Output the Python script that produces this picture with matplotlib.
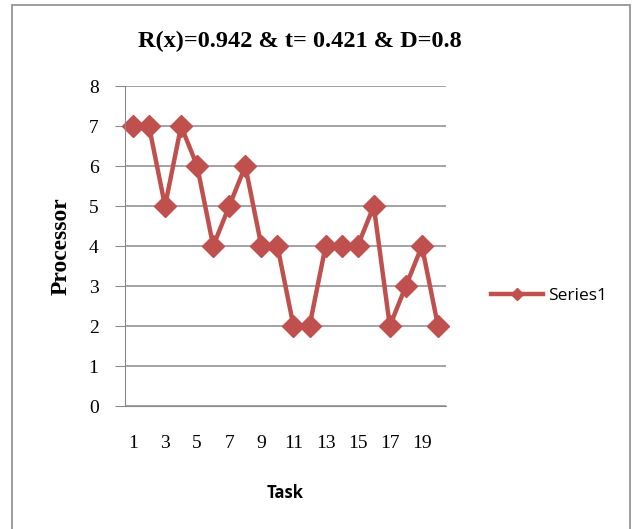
import matplotlib.pyplot as plt
from matplotlib.patches import Rectangle

# processor assigned to each task
tasks = list(range(1, 21))
processors = [7, 7, 5, 7, 6, 4, 5, 6, 4, 4, 2, 2, 4, 4, 4, 5, 2, 3, 4, 2]
tick_tasks = [1, 3, 5, 7, 9, 11, 13, 15, 17, 19]
y_ticks = [0, 1, 2, 3, 4, 5, 6, 7, 8]

red = '#C0504D'
serif = ['Liberation Serif', 'DejaVu Serif']
sans = ['Open Sans', 'DejaVu Sans']

fig = plt.figure(figsize=(6.34, 5.29), dpi=100)
fig.patches.append(Rectangle((12 / 634, -0.01), 618 / 634, 1 - 5 / 529 + 0.01,
                             transform=fig.transFigure, fill=False,
                             edgecolor='#8c8c8c', linewidth=1.2))

ax = fig.add_axes([0.197, 0.2325, 0.5065, 0.6049])
line, = ax.plot(tasks, processors, color=red, linewidth=3.2, marker='D',
                markersize=11.5, clip_on=False)

ax.set_xlim(0.5, 20.5)
ax.set_ylim(0, 8)
ax.set_yticks(y_ticks)
ax.set_xticks(tick_tasks)
ax.grid(axis='y', color='#8a8a8a', linewidth=1.1)
ax.set_axisbelow(True)
for side in ['top', 'right']:
    ax.spines[side].set_visible(False)
ax.spines['left'].set_color('#8a8a8a')
ax.spines['bottom'].set_color('#8a8a8a')
ax.tick_params(axis='y', length=7, color='#8a8a8a', pad=12)
ax.tick_params(axis='x', length=0, pad=21)
for lbl in ax.get_yticklabels():
    lbl.set_fontfamily(serif)
    lbl.set_fontsize(14)
for lbl in ax.get_xticklabels():
    lbl.set_fontfamily(serif)
    lbl.set_fontsize(14)

ax.set_ylabel('Processor', fontfamily=serif, fontsize=17, fontweight='bold',
              labelpad=12)
ax.set_xlabel('Task', fontfamily=sans, fontsize=12, fontweight='bold',
              labelpad=23)

fig.text(0.473, 0.922, 'R(x)=0.942 & t= 0.421 & D=0.8', ha='center',
         va='center', fontfamily=serif, fontsize=17.5, fontweight='bold')

fig.legend([line], ['Series1'], loc='center left',
           bbox_to_anchor=(0.75, 0.44), frameon=False, handlelength=3.0,
           handletextpad=0.3, markerscale=0.55,
           prop={'family': sans, 'size': 12.5})

fig.savefig('out.png', dpi=100)
